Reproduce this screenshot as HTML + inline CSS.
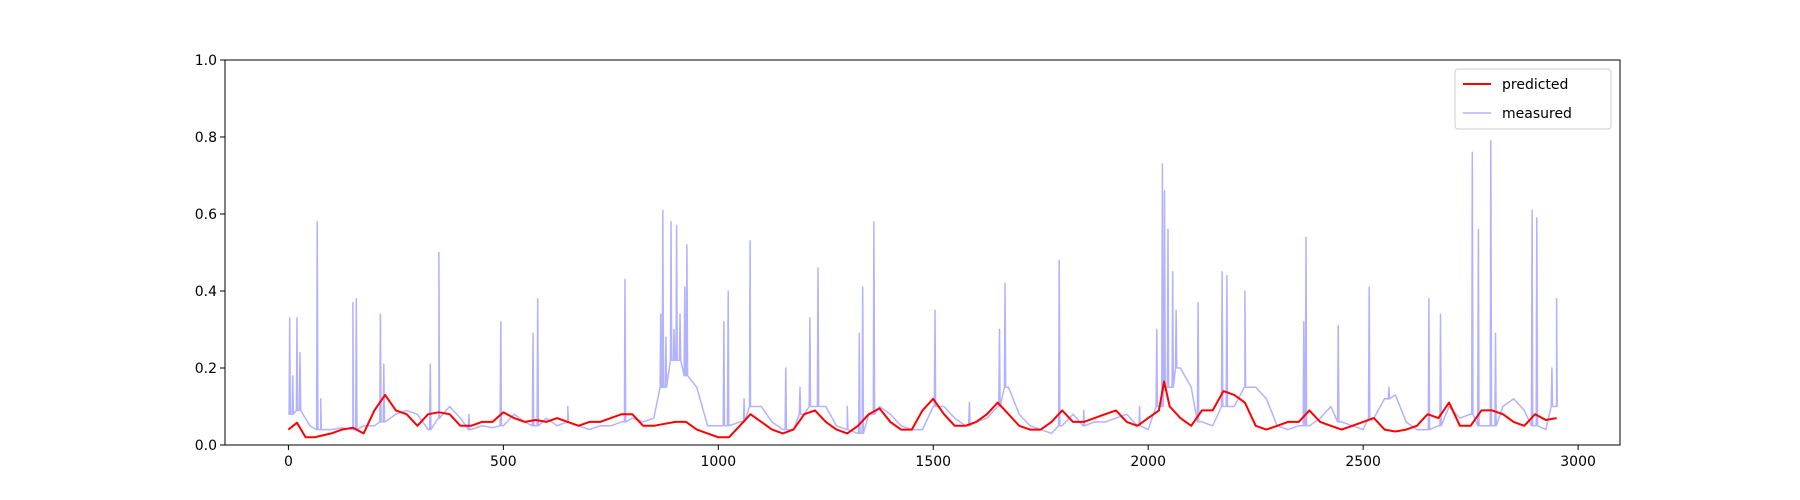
<!DOCTYPE html>
<html><head><meta charset="utf-8"><style>
body{margin:0;background:#fff;}
svg{display:block;font-family:"DejaVu Sans","Liberation Sans",sans-serif;}
</style></head><body>
<svg id="chart" width="1800" height="500" viewBox="0 0 1800 500" xmlns="http://www.w3.org/2000/svg">
<rect width="1800" height="500" fill="#fff"/>
<g id="plot"></g>
<g id="axes"></g>
<g id="legend"></g>
</svg>
<script>
const xTicks=[0,500,1000,1500,2000,2500,3000];
const yTicks=[0.0,0.2,0.4,0.6,0.8,1.0];
const yTickLabels=["0.0","0.2","0.4","0.6","0.8","1.0"];
const predX=[0,20,40,60,80,100,125,150,175,200,225,250,275,300,325,350,375,400,425,450,475,500,525,550,575,600,625,650,675,700,725,750,775,800,825,850,875,900,925,950,975,1000,1025,1050,1075,1100,1125,1150,1175,1200,1225,1250,1275,1300,1325,1350,1375,1400,1425,1450,1475,1500,1525,1550,1575,1600,1625,1650,1675,1700,1725,1750,1775,1800,1825,1850,1875,1900,1925,1950,1975,2000,2025,2037,2050,2075,2100,2125,2150,2175,2200,2225,2250,2275,2300,2325,2350,2375,2400,2425,2450,2475,2500,2525,2550,2575,2600,2625,2650,2675,2700,2725,2750,2775,2800,2825,2850,2875,2900,2925,2950];
const predY=[0.04,0.058,0.02,0.02,0.025,0.03,0.04,0.045,0.03,0.09,0.13,0.09,0.08,0.05,0.08,0.085,0.08,0.05,0.05,0.06,0.06,0.085,0.07,0.06,0.065,0.06,0.07,0.06,0.05,0.06,0.06,0.07,0.08,0.08,0.05,0.05,0.055,0.06,0.06,0.04,0.03,0.02,0.02,0.05,0.08,0.06,0.04,0.03,0.04,0.08,0.09,0.06,0.04,0.03,0.05,0.08,0.095,0.06,0.04,0.04,0.09,0.12,0.08,0.05,0.05,0.06,0.08,0.11,0.08,0.05,0.04,0.04,0.06,0.09,0.06,0.06,0.07,0.08,0.09,0.06,0.05,0.07,0.09,0.165,0.1,0.07,0.05,0.09,0.09,0.14,0.13,0.11,0.05,0.04,0.05,0.06,0.06,0.09,0.06,0.05,0.04,0.05,0.06,0.07,0.04,0.035,0.04,0.05,0.08,0.07,0.11,0.05,0.05,0.09,0.09,0.08,0.06,0.05,0.08,0.065,0.07];
const baseY=[0.08,0.09,0.05,0.04,0.04,0.045,0.04,0.05,0.05,0.06,0.08,0.09,0.08,0.04,0.07,0.1,0.07,0.04,0.05,0.045,0.05,0.08,0.06,0.05,0.07,0.05,0.06,0.05,0.04,0.05,0.05,0.06,0.07,0.06,0.07,0.15,0.22,0.18,0.15,0.05,0.05,0.05,0.06,0.1,0.1,0.06,0.04,0.04,0.08,0.1,0.1,0.05,0.04,0.03,0.08,0.1,0.08,0.05,0.04,0.04,0.1,0.1,0.07,0.05,0.06,0.07,0.1,0.15,0.08,0.05,0.04,0.03,0.05,0.08,0.05,0.06,0.06,0.07,0.08,0.05,0.04,0.1,0.15,0.2,0.15,0.06,0.05,0.1,0.1,0.15,0.15,0.12,0.05,0.04,0.05,0.05,0.07,0.1,0.06,0.05,0.04,0.07,0.12,0.13,0.06,0.04,0.04,0.05,0.1,0.07,0.08,0.05,0.05,0.1,0.12,0.09,0.05,0.04,0.1];
const spikeX=[3,10,20,27,67,75,150,158,214,222,330,350,420,494,569,580,650,783,866,871,878,890,897,903,911,922,927,1013,1023,1060,1074,1157,1190,1213,1232,1300,1328,1336,1362,1504,1584,1654,1667,1793,1850,1980,2020,2033,2038,2046,2057,2065,2116,2172,2183,2225,2362,2367,2442,2514,2560,2653,2680,2754,2768,2797,2808,2893,2904,2939,2950];
const spikeY=[0.33,0.18,0.33,0.24,0.58,0.12,0.37,0.38,0.34,0.21,0.21,0.5,0.08,0.32,0.29,0.38,0.1,0.43,0.34,0.61,0.28,0.58,0.3,0.57,0.34,0.41,0.52,0.32,0.4,0.12,0.53,0.2,0.15,0.33,0.46,0.1,0.29,0.41,0.58,0.35,0.11,0.3,0.42,0.48,0.09,0.1,0.3,0.73,0.66,0.56,0.45,0.35,0.37,0.45,0.44,0.4,0.32,0.54,0.31,0.41,0.15,0.38,0.34,0.76,0.56,0.79,0.29,0.61,0.59,0.2,0.38];
const L=225,R=1620,T=60,B=445,X0=-147.5,X1=3097.5;
const sx=v=>L+(v-X0)/(X1-X0)*(R-L);
const sy=v=>B-v*(B-T);
const NS="http://www.w3.org/2000/svg";
function mk(tag,attrs,parent){const e=document.createElementNS(NS,tag);for(const k in attrs)e.setAttribute(k,attrs[k]);parent.appendChild(e);return e;}
const plot=document.getElementById('plot'),axes=document.getElementById('axes'),legend=document.getElementById('legend');
function baseAt(x){const i=Math.min(baseY.length-1,Math.max(0,Math.round(x/25)));return baseY[i];}
const pts=[];
baseY.forEach((v,i)=>pts.push([i*25,v]));
spikeX.forEach((x,i)=>{pts.push([x-1.5,baseAt(x)]);pts.push([x,spikeY[i]]);pts.push([x+1.5,baseAt(x)]);});
pts.sort((a,b)=>a[0]-b[0]);
const mline=mk('polyline',{points:pts.map(p=>sx(p[0]).toFixed(1)+','+sy(p[1]).toFixed(1)).join(' '),fill:'none',stroke:'#0000ff','stroke-opacity':0.3,'stroke-width':1.5,'stroke-linejoin':'round'},plot);


const pline=mk('polyline',{points:predX.map((x,i)=>sx(x).toFixed(1)+','+sy(predY[i]).toFixed(1)).join(' '),fill:'none',stroke:'#ff0000','stroke-width':2,'stroke-linejoin':'round'},plot);


const frame=mk('rect',{x:L,y:T,width:R-L,height:B-T,fill:'none',stroke:'#000','stroke-width':1},axes);


xTicks.forEach(t=>{const x=sx(t);
 const tk=mk('line',{x1:x,x2:x,y1:B,y2:B+5,stroke:'#000'},axes);
 
 
 const tx=mk('text',{x:x,y:B+21,'text-anchor':'middle','font-size':'14px'},axes);tx.textContent=String(t);
 
 });
yTicks.forEach((t,i)=>{const y=sy(t);
 const tk=mk('line',{x1:L-5,x2:L,y1:y,y2:y,stroke:'#000'},axes);
 
 
 const tx=mk('text',{x:L-8,y:y+5,'text-anchor':'end','font-size':'14px'},axes);tx.textContent=yTickLabels[i];
 
 });
const lb=mk('rect',{x:1455,y:69,width:156,height:60,rx:3,fill:'#fff','fill-opacity':0.8,stroke:'#ccc'},legend);


[['predicted','#ff0000',1,2],['measured','#0000ff',0.3,1.5]].forEach((e,i)=>{const y=84+i*29;
 const ln=mk('line',{x1:1463,x2:1491,y1:y,y2:y,stroke:e[1],'stroke-opacity':e[2],'stroke-width':e[3]},legend);
 
 
 const tx=mk('text',{x:1502,y:y+5,'font-size':'14px'},legend);tx.textContent=e[0];
 
 });
</script>
</body></html>
